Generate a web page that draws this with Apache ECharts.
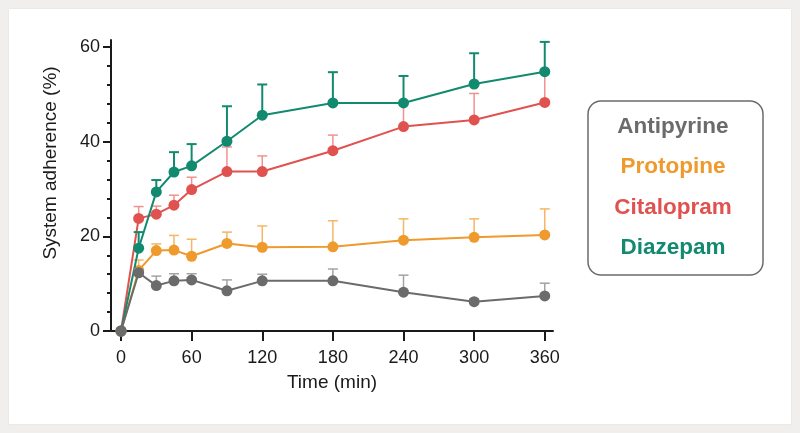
<!DOCTYPE html>
<html>
<head>
<meta charset="utf-8">
<script src="https://cdn.jsdelivr.net/npm/echarts@6/dist/echarts.min.js"></script>
<style>
  html, body { margin: 0; padding: 0; background: #f0efed; }
  #panel { position: absolute; left: 9px; top: 9px; width: 782px; height: 415px; background: #ffffff; box-shadow: 0 0 2px rgba(0,0,0,0.08); }
  #chart { position: absolute; left: 0; top: 0; width: 800px; height: 433px; }
</style>
</head>
<body>
<div id="panel"></div>
<div id="chart"></div>
<script>
// ---- data ----
const times = [0, 15, 30, 45, 60, 90, 120, 180, 240, 300, 360];
const seriesNames = ['Antipyrine', 'Protopine', 'Citalopram', 'Diazepam'];
const antipyrine   = [0, 12.3, 9.6, 10.6, 10.8, 8.5, 10.6, 10.6, 8.2, 6.2, 7.4];
const antipyrineSD = [0, 0.8, 2.0, 1.5, 1.3, 2.3, 1.4, 2.5, 3.6, 0.6, 2.7];
const protopine    = [0, 12.8, 17.0, 17.1, 15.8, 18.5, 17.7, 17.8, 19.2, 19.8, 20.3];
const protopineSD  = [0, 2.2, 1.4, 3.1, 3.6, 2.4, 4.5, 5.5, 4.5, 3.9, 5.5];
const citalopram   = [0, 23.8, 24.7, 26.6, 29.9, 33.7, 33.7, 38.1, 43.2, 44.6, 48.3];
const citalopramSD = [0, 2.5, 1.7, 2.1, 2.6, 5.2, 3.3, 3.3, 5.0, 5.6, 6.3];
const diazepam     = [0, 17.5, 29.4, 33.6, 34.9, 40.1, 45.6, 48.2, 48.2, 52.2, 54.8];
const diazepamSD   = [0, 3.4, 2.5, 4.2, 4.6, 7.4, 6.5, 6.5, 5.7, 6.5, 6.3];
const xTicks = [0, 60, 120, 180, 240, 300, 360];
const yTicks = [0, 20, 40, 60];
const yMinorTicks = [4, 8, 12, 16, 24, 28, 32, 36, 44, 48, 52, 56];

// ---- styles ----
const FONT = 'Liberation Sans, Arial, sans-serif';
const colors    = ['#6b6b6b', '#ee9a2c', '#e0524f', '#128a70'];
const errColors = ['#a3a3a3', '#f3b766', '#ee9390', '#128a70'];
const errWidths = [1.5, 1.5, 1.5, 2];
const means = [antipyrine, protopine, citalopram, diazepam];
const sds = [antipyrineSD, protopineSD, citalopramSD, diazepamSD];
const zOrder = [5, 2, 3, 4];

const series = [];
seriesNames.forEach((name, i) => {
  series.push({
    name: name,
    type: 'custom',
    z: zOrder[i],
    silent: true,
    data: times.map((t, k) => [t, means[i][k], means[i][k] + sds[i][k]]),
    renderItem: (params, api) => {
      const p0 = api.coord([api.value(0), api.value(1)]);
      const p1 = api.coord([api.value(0), api.value(2)]);
      const hw = 5;
      const st = { stroke: errColors[i], lineWidth: errWidths[i] };
      return {
        type: 'group',
        children: [
          { type: 'line', shape: { x1: p0[0], y1: p0[1], x2: p1[0], y2: p1[1] }, style: st },
          { type: 'line', shape: { x1: p1[0] - hw, y1: p1[1], x2: p1[0] + hw, y2: p1[1] }, style: st }
        ]
      };
    }
  });
  series.push({
    name: name,
    type: 'line',
    z: zOrder[i],
    data: times.map((t, k) => [t, means[i][k]]),
    symbol: 'circle',
    symbolSize: 11,
    showSymbol: true,
    lineStyle: { color: colors[i], width: 2 },
    itemStyle: { color: colors[i] }
  });
});

const richLegend = {};
seriesNames.forEach((n, i) => {
  richLegend['s' + i] = { color: colors[i], fontSize: 22.5, fontWeight: 'bold', fontFamily: FONT, width: 150, align: 'center', lineHeight: 24 };
});

const chart = echarts.init(document.getElementById('chart'), null, { renderer: 'canvas' });
chart.setOption({
  animation: false,
  backgroundColor: 'transparent',
  textStyle: { fontFamily: FONT },
  grid: { left: 111, right: 247, top: 40, bottom: 102, containLabel: false },
  legend: {
    orient: 'vertical',
    left: 593,
    top: 115,
    icon: 'none',
    itemWidth: 0,
    itemHeight: 0,
    itemGap: 17.5,
    padding: 0,
    selectedMode: false,
    data: seriesNames,
    formatter: (name) => '{s' + seriesNames.indexOf(name) + '|' + name + '}',
    textStyle: { rich: richLegend, fontSize: 22.5, fontWeight: 'bold' }
  },
  graphic: [
    {
      type: 'rect',
      z: -1,
      shape: { x: 588, y: 101, width: 175, height: 174, r: 13 },
      style: { fill: '#ffffff', stroke: '#6b6b6b', lineWidth: 1.5 }
    },
    {
      type: 'text',
      x: 51, y: 163,
      rotation: Math.PI / 2,
      style: { text: 'System adherence (%)', fontSize: 19, fontFamily: FONT, fill: '#1a1a1a', align: 'center', verticalAlign: 'middle' }
    }
  ],
  xAxis: {
    type: 'value',
    min: -8.5,
    max: 367,
    name: 'Time (min)',
    nameLocation: 'middle',
    nameGap: 42,
    nameTextStyle: { fontSize: 19, color: '#1a1a1a', fontFamily: FONT },
    splitLine: { show: false },
    axisLine: { show: true, onZero: false, lineStyle: { color: '#1a1a1a', width: 2 } },
    axisTick: { show: true, customValues: xTicks, length: 10, lineStyle: { color: '#1a1a1a', width: 2 } },
    axisLabel: { customValues: xTicks, fontSize: 18, color: '#1a1a1a', margin: 18, fontFamily: FONT }
  },
  yAxis: [
    {
      type: 'value',
      min: 0,
      max: 61.5,
      splitLine: { show: false },
      axisLine: { show: true, onZero: false, lineStyle: { color: '#1a1a1a', width: 2 } },
      axisTick: { show: true, customValues: yTicks, length: 8, lineStyle: { color: '#1a1a1a', width: 2 } },
      axisLabel: { customValues: yTicks, fontSize: 18, color: '#1a1a1a', margin: 11, fontFamily: FONT }
    },
    {
      type: 'value',
      min: 0,
      max: 61.5,
      position: 'left',
      splitLine: { show: false },
      axisLine: { show: false, onZero: false },
      axisTick: { show: true, customValues: yMinorTicks, length: 4, lineStyle: { color: '#1a1a1a', width: 2 } },
      axisLabel: { show: false }
    }
  ],
  series: series
});
</script>
</body>
</html>
